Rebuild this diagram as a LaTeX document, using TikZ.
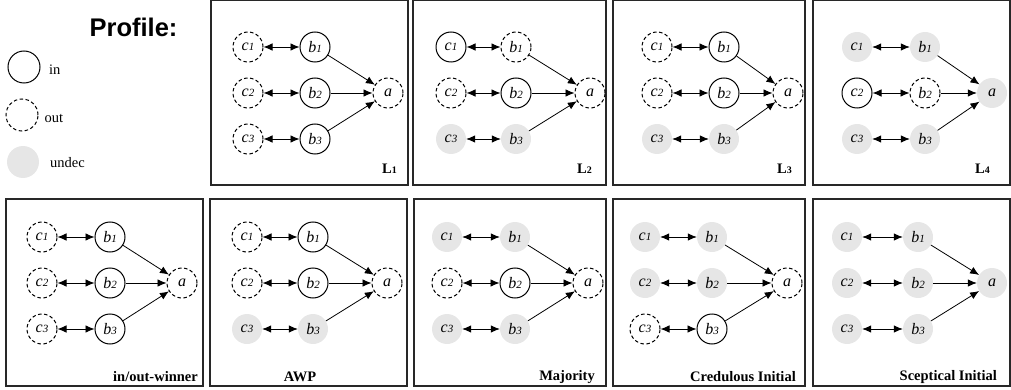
\documentclass[tikz,border=0pt]{standalone}
\usepackage{fontspec}
\setmainfont{Liberation Serif}
\newfontfamily\profilefont{Liberation Sans}
\usetikzlibrary{arrows.meta}

\definecolor{undecgray}{RGB}{230,230,230}
\definecolor{framegray}{RGB}{40,40,40}

\tikzset{
  state/.style={circle, minimum size=30pt, inner sep=0pt, font=\fontsize{16}{16}\selectfont\itshape},
  ins/.style={state, draw=black, line width=1pt},
  outs/.style={state, draw=black, line width=1pt, dash pattern=on 3.5pt off 2.5pt},
  unds/.style={state, fill=undecgray},
  frame/.style={draw=framegray, line width=1.2pt},
  tip/.style={},
  mutual/.style={{Latex[length=9pt,width=7.5pt]}-{Latex[length=9pt,width=7.5pt]}, line width=0.8pt},
  attack/.style={-{Latex[length=9pt,width=7.5pt]}, line width=0.8pt},
  tag/.style={font=\fontsize{14.5}{14.5}\selectfont\bfseries, inner sep=0pt},
  legendtext/.style={font=\fontsize{14.5}{14.5}\selectfont, inner sep=0pt, anchor=west}
}

% argument with a small italic index: c1, b2, ...
\newcommand\argname[2]{\itshape #1\fontsize{11}{11}\selectfont\itshape #2}

% one labelling: #1 prefix, #2 x of c, #3 x of b, #4 x of a, #5 y of first row,
% #6 states of c1..c3, #7 states of b1..b3, #8 state of a
\newcommand\labelling[8]{
  \foreach \s [count=\i] in {#6}
    \node[\s] (#1c\i) at (#2, {#5+(\i-1)*46}) {\argname{c}{\i}};
  \foreach \s [count=\i] in {#7}
    \node[\s] (#1b\i) at (#3, {#5+(\i-1)*46}) {\argname{b}{\i}};
  \node[#8] (#1a) at (#4, {#5+46}) {a};
  \foreach \i in {1,2,3} {
    \draw[mutual] (#1c\i) -- (#1b\i);
    \draw[attack] (#1b\i) -- (#1a);
  }
}

\begin{document}
\begin{tikzpicture}[x=1pt, y=-1pt]
\useasboundingbox (0,0) rectangle (1011,390);

% legend
\node[font=\profilefont\bfseries\fontsize{25.5}{25.5}\selectfont, anchor=base, inner sep=0pt] (profile) at (133.5,36.5) {Profile:};
\node[ins, minimum size=32pt] (legin) at (24,67) {};
\node[legendtext] (legintext) at (49,70) {in};
\node[outs, minimum size=32pt] (legout) at (22,115) {};
\node[legendtext] (legouttext) at (44.5,118) {out};
\node[unds, minimum size=32pt] (legund) at (23,162) {};
\node[legendtext] (legundtext) at (50,163) {undec};

% frames
\draw[frame] (211,0.8) rectangle (408,185);
\draw[frame] (413,0.8) rectangle (606,185);
\draw[frame] (613,0.8) rectangle (805,185);
\draw[frame] (813,0.8) rectangle (1010,185);
\draw[frame] (6,199) rectangle (203,386);
\draw[frame] (210,199) rectangle (407,386);
\draw[frame] (414,199) rectangle (606,386);
\draw[frame] (613,199) rectangle (805,386);
\draw[frame] (813,199) rectangle (1010,386);

% profile labellings
\labelling{pA}{248}{315}{388}{47}{outs,outs,outs}{ins,ins,ins}{outs}
\labelling{pB}{451}{516}{590}{47}{ins,outs,unds}{outs,ins,unds}{outs}
\labelling{pC}{657}{724}{788}{47}{outs,outs,unds}{ins,ins,unds}{outs}
\labelling{pD}{857}{925}{992}{47}{unds,ins,unds}{unds,outs,unds}{unds}

% aggregated labellings
\labelling{qA}{42}{110}{182}{237}{outs,outs,outs}{ins,ins,ins}{outs}
\labelling{qB}{247}{313}{387}{237}{outs,outs,unds}{ins,ins,unds}{outs}
\labelling{qC}{447}{515}{588}{237}{unds,outs,unds}{unds,ins,unds}{outs}
\labelling{qD}{645}{712}{787}{237}{unds,unds,outs}{unds,unds,ins}{outs}
\labelling{qE}{847}{918}{992}{237}{unds,unds,unds}{unds,unds,unds}{unds}

% captions
\node[tag, anchor=east] (capL1) at (397,169) {L\fontsize{10}{10}\selectfont 1};
\node[tag, anchor=east] (capL2) at (592,169) {L\fontsize{10}{10}\selectfont 2};
\node[tag, anchor=east] (capL3) at (792,169) {L\fontsize{10}{10}\selectfont 3};
\node[tag, anchor=east] (capL4) at (990,169) {L\fontsize{10}{10}\selectfont 4};
\node[tag, anchor=east] (capW) at (198,377) {in/out-winner};
\node[tag] (capAWP) at (300,377) {AWP};
\node[tag, anchor=east] (capM) at (595,377) {Majority};
\node[tag, anchor=east] (capC) at (796,377) {Credulous Initial};
\node[tag, anchor=east] (capS) at (997,377) {Sceptical Initial};
\end{tikzpicture}
\end{document}
